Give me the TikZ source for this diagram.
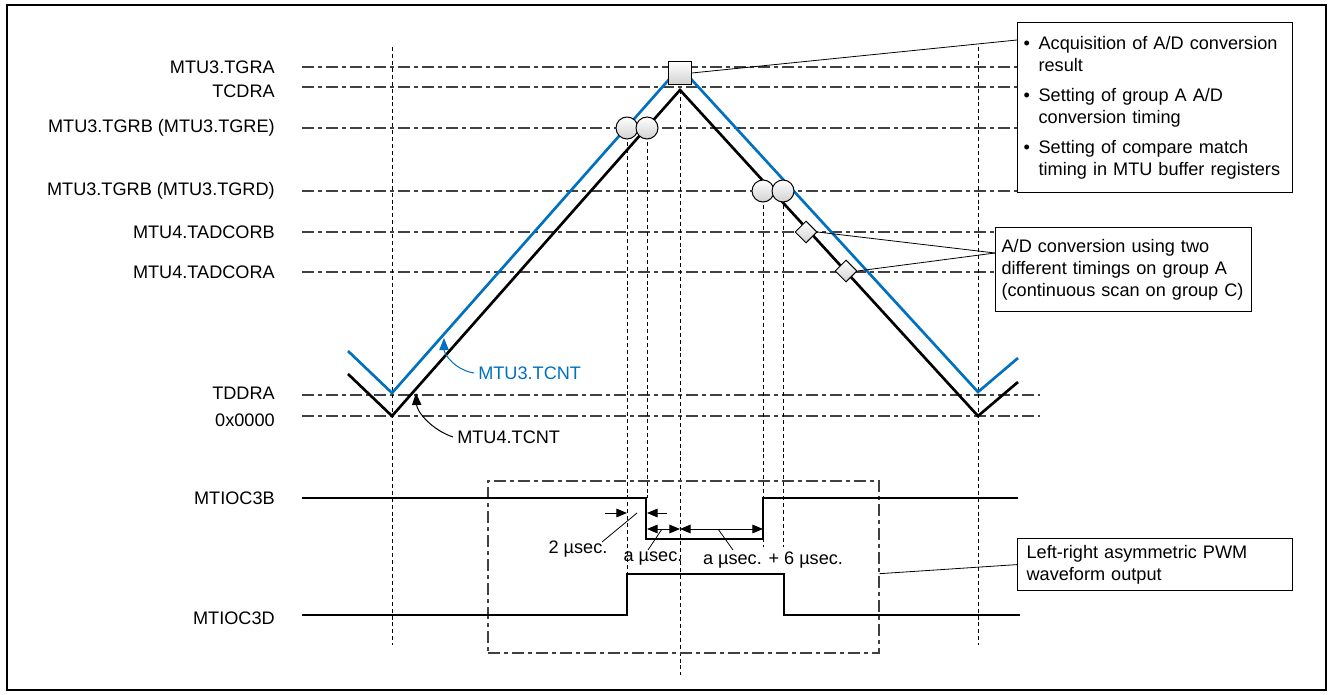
\documentclass[tikz,border=0pt]{standalone}
\usepackage{fontspec}
\setmainfont{Liberation Sans}
\usetikzlibrary{
    arrows.meta,
    positioning,
    shapes.geometric,
    calc
}
\definecolor{tcntblue}{RGB}{0,112,192}
\definecolor{refgray}{RGB}{64,64,64}

\begin{document}
\begin{tikzpicture}[
  x=0.75pt, y=-0.75pt,
  txt/.style={font=\fontsize{13.6}{16.5}\selectfont, inner sep=0pt},
  lbl/.style={txt, anchor=east},
  refl/.style={draw=refgray, line width=0.9pt,
    dash pattern=on 9pt off 3pt on 3pt off 3pt},
  guide/.style={draw=black, line width=0.75pt, dash pattern=on 3pt off 2.2pt},
  frm/.style={draw=refgray, line width=0.9pt,
    dash pattern=on 9pt off 3pt on 3pt off 3pt, inner sep=0pt},
  cnt/.style={line width=2pt},
  wave/.style={line width=2pt},
  mk/.style={draw, line width=0.75pt, top color=white,
    bottom color=black!18, inner sep=0pt},
  circmk/.style={mk, circle, minimum size=16.5pt},
  sqmk/.style={mk, rectangle, minimum size=17pt},
  dmdmk/.style={mk, diamond, minimum width=16.5pt, minimum height=16.5pt},
  note/.style={txt, draw, line width=0.9pt, align=left, anchor=north west},
  lead/.style={line width=0.6pt},
  dtip/.style={-{Triangle[length=8pt,width=6.5pt]}, line width=0.75pt},
  ddim/.style={{Triangle[length=8pt,width=6.5pt]}-{Triangle[length=8pt,width=6.5pt]},
    line width=0.75pt},
  callout/.style={-{Triangle[length=9pt,width=7pt]}, line width=0.75pt}
]
\useasboundingbox (0,0) rectangle (1330,695);
\draw[line width=1.2pt] (7,5) rectangle (1326,690);

%% register labels
\node[lbl] (lTGRA)  at (275,67)  {MTU3.TGRA};
\node[lbl] (lTCDRA) at (275,91)  {TCDRA};
\node[lbl] (lTGRE)  at (275,128) {MTU3.TGRB (MTU3.TGRE)};
\node[lbl] (lTGRD)  at (275,191) {MTU3.TGRB (MTU3.TGRD)};
\node[lbl] (lADB)   at (275,232) {MTU4.TADCORB};
\node[lbl] (lADA)   at (275,272) {MTU4.TADCORA};
\node[lbl] (lTDDRA) at (275,393) {TDDRA};
\node[lbl] (lZero)  at (275,420) {0x0000};
\node[lbl] (l3B)    at (275,498) {MTIOC3B};
\node[lbl] (l3D)    at (275,618) {MTIOC3D};

%% compare levels
\foreach \yy/\xe in {67/1017, 87/1017, 128/1017, 191/1017,
                     232/995, 272/995, 395/1040, 416/1040}
  \draw[refl] (302,\yy) -- (\xe,\yy);

%% timing guides
\draw[guide] (392,47) -- (392,645);
\draw[guide] (978,47) -- (978,645);
\draw[guide] (680,90) -- (680,675);
\draw[guide] (627,128) -- (627,574);
\draw[guide] (647,128) -- (647,498);
\draw[guide] (763,191) -- (763,547);
\draw[guide] (783,191) -- (783,547);

%% PWM output frame
\node[frm, minimum width=293.25pt, minimum height=129pt] (pwm) at (683.5,567) {};

%% output waveforms
\draw[wave] (302,498) -- (646,498) -- (646,539) -- (763,539) -- (763,498) -- (1018,498);
\draw[wave] (302,615) -- (627,615) -- (627,574) -- (784,574) -- (784,615) -- (1020,615);

%% counters
\draw[cnt, tcntblue] (348,351) -- (392,393) -- (680,67) -- (978,392) -- (1018,358);
\draw[cnt] (348,374) -- (392,416) -- (680,90) -- (978,416) -- (1018,382);

%% match marks
\node[sqmk]   (sq)  at (680,73)  {};
\node[circmk] (cE1) at (627,128) {};
\node[circmk] (cE2) at (647,128) {};
\node[circmk] (cD1) at (763,191) {};
\node[circmk] (cD2) at (783,191) {};
\node[dmdmk]  (dB)  at (806,232) {};
\node[dmdmk]  (dA)  at (846,271) {};

%% notes
\node[note, text width=197.25pt, inner xsep=4.5pt, minimum height=127.5pt] (n1) at (1017,22)
  {\makebox[11.25pt][l]{•}Acquisition of A/D conversion\\
   \hspace*{11.25pt}result\\[6pt]
   \makebox[11.25pt][l]{•}Setting of group A A/D\\
   \hspace*{11.25pt}conversion timing\\[6pt]
   \makebox[11.25pt][l]{•}Setting of compare match\\
   \hspace*{11.25pt}timing in MTU buffer registers};
\node[note, text width=183pt, inner xsep=4.5pt, minimum height=63pt] (n2) at (995,227)
  {A/D conversion using two\\ different timings on group A\\ (continuous scan on group C)};
\node[note, text width=192.75pt, inner xsep=6.75pt, minimum height=39pt] (n3) at (1017,538)
  {Left-right asymmetric PWM\\ waveform output};

\coordinate (n1in) at (1017,40);
\coordinate (n2in) at (995,253);
\draw[lead] (sq.east) -- (n1in);
\draw[lead] (dB.east) -- (n2in);
\draw[lead] (dA.east) -- (n2in);
\draw[lead] ([yshift=-5pt]pwm.east) -- (n3.west);

%% counter names
\node[txt, anchor=west, text=tcntblue] (t3) at (478,373) {MTU3.TCNT};
\node[txt, anchor=west] (t4) at (457,437) {MTU4.TCNT};
\coordinate (t3tip) at (444,338);
\coordinate (t4tip) at (416,393);
\draw[callout, tcntblue] ([xshift=-3pt]t3.west) .. controls (455,370) and (444,354) .. (t3tip);
\draw[callout] ([xshift=-3pt]t4.west) .. controls (432,430) and (417,412) .. (t4tip);

%% dead time and duty
\coordinate (w2a) at (605,513);
\coordinate (w2b) at (627,513);
\coordinate (w2c) at (647,513);
\coordinate (w2d) at (667,513);
\coordinate (wa1) at (647,529);
\coordinate (wa2) at (680,529);
\coordinate (wa3) at (763,529);
\draw[dtip] (w2a) -- (w2b);
\draw[dtip] (w2d) -- (w2c);
\draw[ddim] (wa1) -- (wa2);
\draw[ddim] (wa2) -- (wa3);

\node[txt] (d2)  at (578,549) {2 µsec.};
\node[txt] (da)  at (653,558) {a µsec.};
\node[txt] (da6) at (773,560) {a µsec. + 6 µsec.};
\draw[lead] (637,513) -- (602,542);
\draw[lead] (662,529) -- (648,550);
\draw[lead] (718,529) -- (733,550);

\end{tikzpicture}
\end{document}
